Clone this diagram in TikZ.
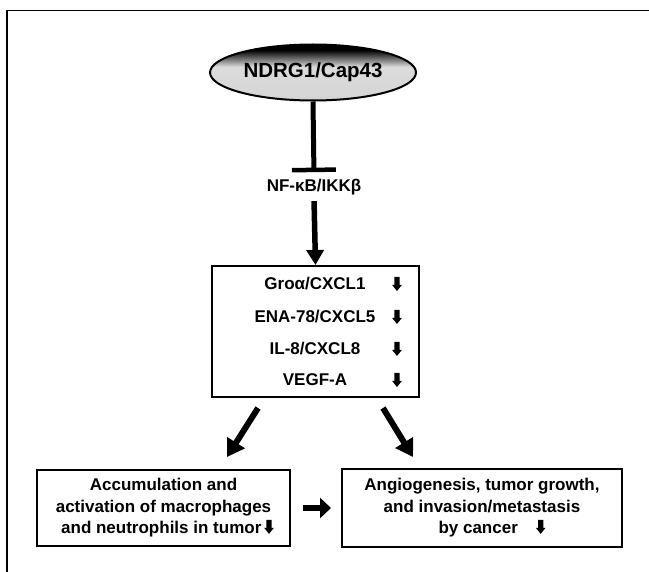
\documentclass[tikz,border=0pt]{standalone}
\usepackage{fontspec}
\setmainfont{Liberation Sans}
\usetikzlibrary{shapes.geometric,arrows.meta,positioning,calc}

% small thick down arrow used inside the texts
\newcommand{\dnmark}{\tikz[baseline=0pt]\fill (-2.6pt,14pt) -- (2.6pt,14pt) -- (2.6pt,6pt) -- (4.8pt,6pt) -- (0pt,0pt) -- (-4.8pt,6pt) -- (-2.6pt,6pt) -- cycle;}

% light centre, black top rim
\pgfdeclareverticalshading{ndrgshade}{100bp}{color(0bp)=(gray!60); color(30bp)=(gray!32); color(55bp)=(gray!28); color(70bp)=(black); color(100bp)=(black)}

\begin{document}
\begin{tikzpicture}[x=1pt, y=-1pt,
    every node/.style={font=\bfseries\fontsize{17}{21.5}\selectfont},
    factorbox/.style={draw, line width=2pt, align=center, inner sep=0pt},
    bigarrow/.style={line width=6pt, -{Triangle[length=17pt,width=20pt]}}]
    \useasboundingbox (0,0) rectangle (649,572);

    % Frame
    \draw[line width=1.5pt] (7,572) -- (7,10.5) -- (649,10.5);

    % NDRG1 and its target
    \node[ellipse, draw, line width=2pt, minimum width=176pt, minimum height=56pt,
          shading=ndrgshade, font=\bfseries\fontsize{20.5}{24}\selectfont] (ndrg) at (313,72.5) {NDRG1/Cap43};
    \node[anchor=base] (nfkb) at (314,192) {NF-κB/IKKβ};
    \draw[line width=5pt, -{Bar[width=44pt,line width=4.5pt]}, shorten >=4pt] (ndrg.south) -- (nfkb.north);

    % Chemokines
    \node[factorbox, minimum width=207pt, minimum height=131pt] (cytobox) at (315.5,331.5) {};
    \draw[line width=5.5pt, -{Triangle[length=15pt,width=17pt]}, shorten <=2pt] (nfkb.south) -- (cytobox.north);
    \foreach \txt/\y [count=\i] in {{Groα/CXCL1}/290, {ENA-78/CXCL5}/323, {IL-8/CXCL8}/355, {VEGF-A}/386} {
        \node[anchor=base] (row\i) at (315,\y) {\txt};
        \node[inner sep=0pt, anchor=base] (dn\i) at (397,\y+1) {\dnmark};
    }

    % Effects
    \node[factorbox, minimum width=253pt, minimum height=76pt] (accum) at (163.5,508)
        {Accumulation and\\activation of macrophages\\\hspace{8pt}and neutrophils in tumor\,\dnmark};
    \node[factorbox, minimum width=280pt, minimum height=78pt] (angio) at (482,508)
        {Angiogenesis, tumor growth,\\and invasion/metastasis\\\hspace{20pt}by cancer\hspace{18pt}\dnmark};

    \draw[bigarrow] ([xshift=-57.5pt,yshift=-10pt]cytobox.south) -- ([xshift=63.5pt,yshift=12pt]accum.north);
    \draw[bigarrow] ([xshift=67.5pt,yshift=-10pt]cytobox.south) -- ([xshift=-69pt,yshift=11pt]angio.north);
    \draw[line width=6.5pt, -{Triangle[length=11pt,width=20pt]}, shorten <=12pt, shorten >=10pt] (accum.east) -- (angio.west);
\end{tikzpicture}
\end{document}
